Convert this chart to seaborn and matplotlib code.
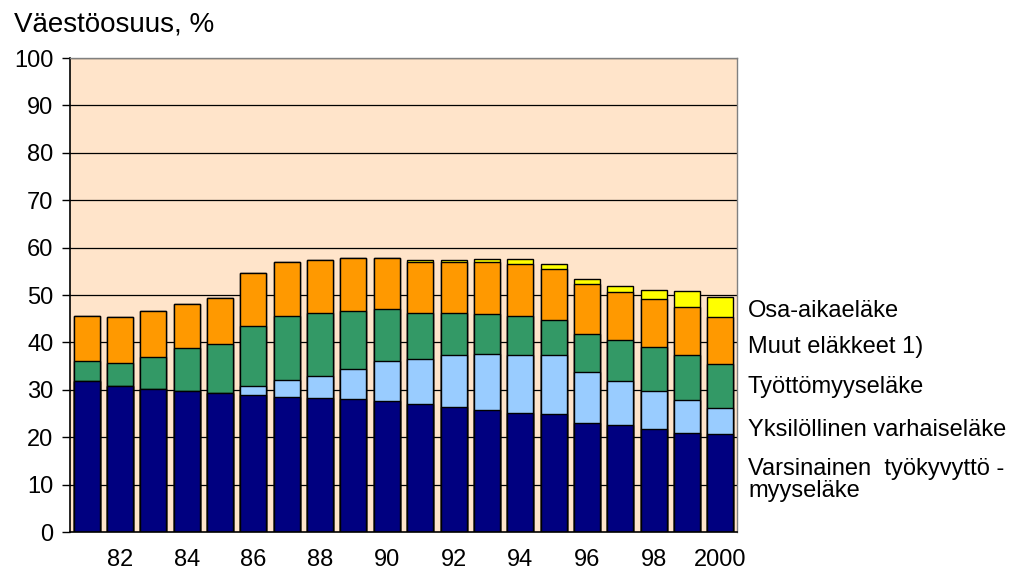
import numpy as np
import pandas as pd
import matplotlib
matplotlib.use("Agg")
import matplotlib.pyplot as plt
import seaborn as sns

# Values (share of population, %)
years = [str(y) for y in range(1981, 2001)]
varsinainen = [31.9, 30.7, 30.1, 29.8, 29.3, 29.0, 28.5, 28.3, 28.1, 27.6,
               26.9, 26.3, 25.7, 25.2, 24.8, 23.0, 22.6, 21.8, 20.9, 20.6]
yksilollinen = [0, 0, 0, 0, 0, 1.9, 3.6, 4.6, 6.2, 8.4,
                9.7, 11.0, 11.8, 12.1, 12.5, 10.8, 9.3, 8.0, 6.9, 5.5]
tyottomyys = [4.2, 4.9, 6.9, 9.0, 10.4, 12.6, 13.5, 13.4, 12.3, 11.0,
              9.7, 8.8, 8.4, 8.3, 7.5, 8.0, 8.7, 9.2, 9.6, 9.3]
muut = [9.4, 9.7, 9.6, 9.4, 9.6, 11.2, 11.3, 11.1, 11.2, 10.8,
        10.7, 10.9, 11.1, 10.9, 10.7, 10.5, 10.1, 10.1, 10.1, 9.9]
osa_aika = [0, 0, 0, 0, 0, 0, 0, 0, 0, 0,
            0.3, 0.3, 0.5, 1.0, 1.0, 1.0, 1.1, 1.9, 3.3, 4.3]

series_names = ["Varsinainen  työkyvyttö -\nmyyseläke", "Yksilöllinen varhaiseläke",
                "Työttömyyseläke", "Muut eläkkeet 1)", "Osa-aikaeläke"]
series_colors = ["#000080", "#99CCFF", "#339966", "#FF9900", "#FFFF00"]
tick_pos = [1, 3, 5, 7, 9, 11, 13, 15, 17, 19]
tick_labels = ["82", "84", "86", "88", "90", "92", "94", "96", "98", "2000"]

df = pd.DataFrame({"year": years, "v": varsinainen, "y": yksilollinen,
                   "t": tyottomyys, "m": muut, "o": osa_aika})
cum = df[["v", "y", "t", "m", "o"]].cumsum(axis=1)

plt.rcParams["font.family"] = ["Liberation Sans", "DejaVu Sans"]
fig = plt.figure(figsize=(10.17, 5.71), dpi=100)
ax = fig.add_axes([0.0688, 0.0683, 0.6559, 0.8301])
ax.set_facecolor("#FFE4CA")

# grid lines behind bars
for g in range(10, 101, 10):
    ax.axhline(g, color="black", lw=0.9, zorder=0)

# stacked bars: draw cumulative totals from top layer down
for col, color in zip(["o", "m", "t", "y", "v"], series_colors[::-1]):
    sns.barplot(x=df["year"], y=cum[col], color=color, width=0.78,
                edgecolor="black", linewidth=1.0, saturation=1, ax=ax, zorder=2)

ax.set_xlim(-0.5, 19.5)
ax.set_ylim(0, 100)
ax.set_yticks(range(0, 101, 10))
ax.set_xticks(tick_pos)
ax.set_xticklabels(tick_labels)
ax.tick_params(axis="x", labelsize=17, length=0, pad=12)
ax.tick_params(axis="y", labelsize=17, length=6, width=1, direction="out", pad=6)
ax.set_xlabel("")
ax.set_ylabel("")
for s in ["left", "bottom"]:
    ax.spines[s].set_color("black")
    ax.spines[s].set_linewidth(1.2)
for s in ["right", "top"]:
    ax.spines[s].set_color("#808080")
    ax.spines[s].set_linewidth(1.0)

fig.text(0.014, 0.957, "Väestöosuus, %", fontsize=20, ha="left", va="center")

# legend texts at the right
label_y = [311, 347, 387, 430, 480]
for name, yp in zip(series_names[::-1], label_y):
    fig.text(748 / 1017, 1 - yp / 571, name, fontsize=17, ha="left", va="center",
             linespacing=0.95)

fig.savefig("out.png", dpi=100)
